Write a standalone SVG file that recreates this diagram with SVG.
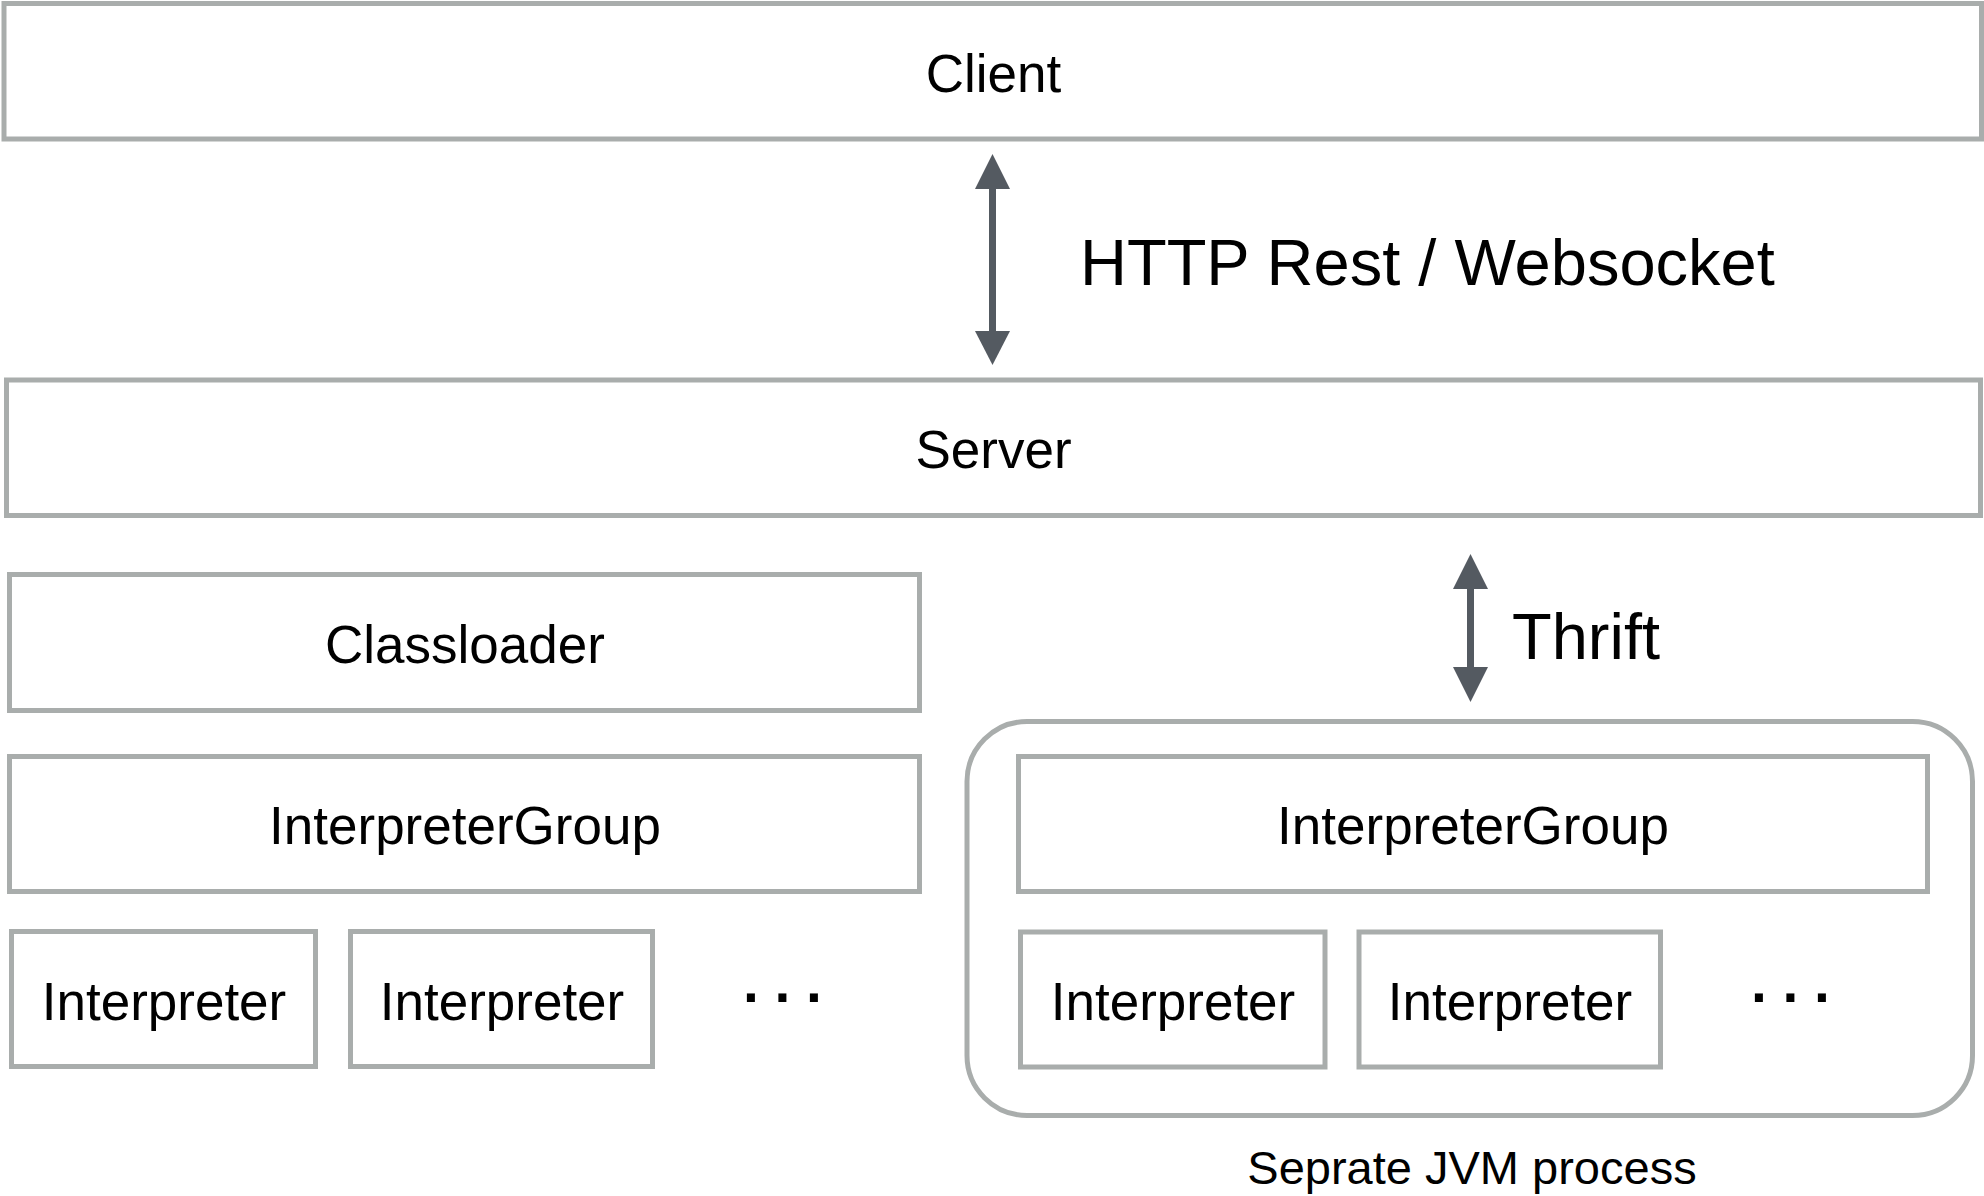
<svg xmlns="http://www.w3.org/2000/svg" width="1984" height="1196" viewBox="0 0 1984 1196">
  <style>
    .box { fill: #ffffff; stroke: #a9adac; stroke-width: 5; }
    .label { font-family: "Liberation Sans", Arial, sans-serif; font-size: 53px; fill: #000000; text-anchor: middle; }
    .big { font-family: "Liberation Sans", Arial, sans-serif; font-size: 65px; fill: #000000; }
    .dots { font-family: "Liberation Sans", Arial, sans-serif; font-size: 57px; font-weight: bold; fill: #000000; letter-spacing: 15.7px; }
    .link { stroke: #545a61; stroke-width: 7; fill: none; }
    .head { fill: #545a61; }
  </style>
  <rect width="1984" height="1196" fill="#ffffff"/>

  <!-- Top tier -->
  <g id="client">
    <rect class="box" x="4" y="3.5" width="1977.5" height="135.5"/>
    <text class="label" x="993.5" y="92">Client</text>
  </g>
  <g id="server">
    <rect class="box" x="6.5" y="380" width="1974" height="135.5"/>
    <text class="label" x="993.5" y="468">Server</text>
  </g>

  <!-- In-process interpreters -->
  <g id="classloader">
    <rect class="box" x="9.5" y="574.5" width="910" height="136"/>
    <text class="label" x="465" y="663">Classloader</text>
  </g>
  <g id="group-local">
    <rect class="box" x="9.5" y="756.5" width="910" height="135"/>
    <text class="label" x="465" y="844">InterpreterGroup</text>
  </g>
  <g id="interp-local-1">
    <rect class="box" x="11.5" y="931.5" width="304" height="135"/>
    <text class="label" x="164" y="1020">Interpreter</text>
  </g>
  <g id="interp-local-2">
    <rect class="box" x="350.5" y="931.5" width="302" height="135"/>
    <text class="label" x="502" y="1020">Interpreter</text>
  </g>
  <g id="more-local">
    <text class="dots" x="743" y="1002">...</text>
  </g>

  <!-- Remote interpreter process -->
  <g id="jvm-process">
    <rect class="box" x="967" y="721.5" width="1005.5" height="394" rx="60" ry="60"/>
    <text class="label" x="1472" y="1184" style="font-size:47px">Seprate JVM process</text>
  </g>
  <g id="group-remote">
    <rect class="box" x="1018.5" y="756.5" width="909" height="135"/>
    <text class="label" x="1473" y="844">InterpreterGroup</text>
  </g>
  <g id="interp-remote-1">
    <rect class="box" x="1020.5" y="932" width="304.5" height="135"/>
    <text class="label" x="1173" y="1020">Interpreter</text>
  </g>
  <g id="interp-remote-2">
    <rect class="box" x="1359" y="932" width="301.5" height="135"/>
    <text class="label" x="1510" y="1020">Interpreter</text>
  </g>
  <g id="more-remote">
    <text class="dots" x="1751" y="1002">...</text>
  </g>

  <!-- Connectors -->
  <g id="connectors">
    <g id="http">
      <line class="link" x1="992.5" y1="185" x2="992.5" y2="335"/>
      <polygon class="head" points="992.5,154 975,189 1010,189"/>
      <polygon class="head" points="992.5,365 975,331 1010,331"/>
      <text class="big" x="1080" y="285">HTTP Rest / Websocket</text>
    </g>
    <g id="thrift">
      <line class="link" x1="1470.5" y1="585" x2="1470.5" y2="671"/>
      <polygon class="head" points="1470.5,554 1453,589 1488,589"/>
      <polygon class="head" points="1470.5,702 1453,667 1488,667"/>
      <text class="big" x="1512" y="659">Thrift</text>
    </g>
  </g>
</svg>
